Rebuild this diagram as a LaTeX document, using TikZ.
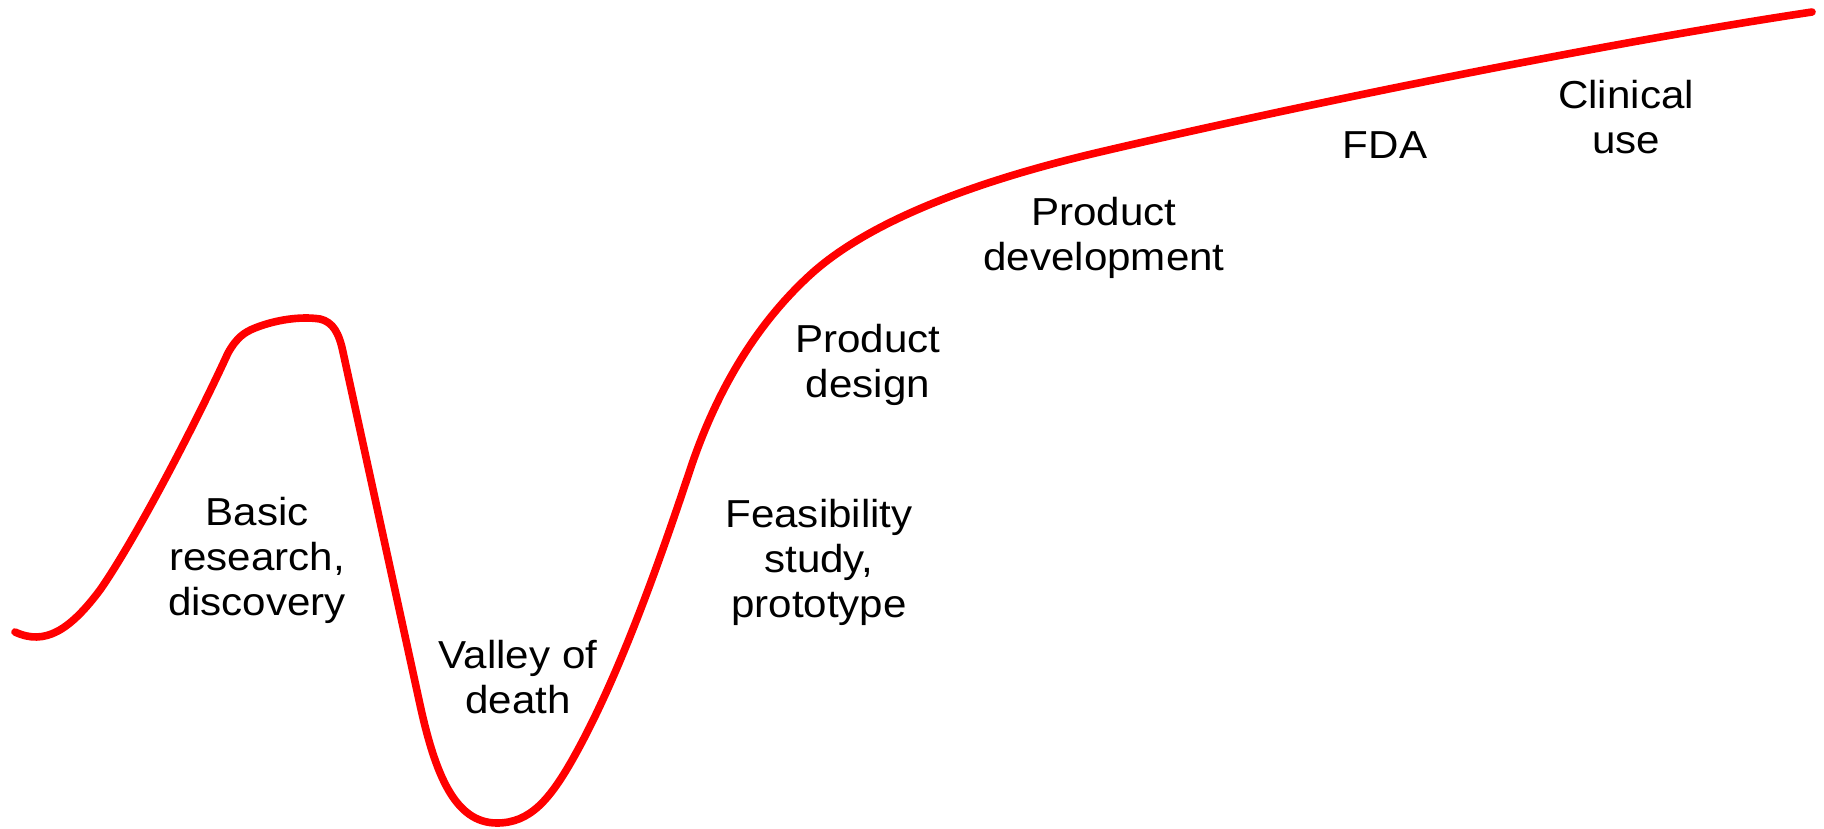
\documentclass[tikz,border=0pt]{standalone}
\usepackage{fontspec}
\setmainfont{Liberation Sans}[FakeStretch=1.08]
\begin{document}
\begin{tikzpicture}[x=0.5pt,y=-0.5pt,
  curve/.style={draw=red,line width=3.8pt,line cap=round,line join=round},
  lbl/.style={font=\fontsize{19.5}{22.5}\selectfont,align=center,inner sep=0pt,anchor=north,text=black}]
\useasboundingbox (0,0) rectangle (1824,829);
\draw[curve] (15,632)
  .. controls (45,646) and (70,630) .. (100,590)
  .. controls (135,540) and (195,425) .. (228,353)
  .. controls (237,337) and (245,332) .. (255,328)
  .. controls (275,320) and (300,316) .. (320,319)
  .. controls (333,322) and (339,333) .. (343,352)
  -- (419,700)
  .. controls (435,775) and (455,823) .. (497,823)
  .. controls (530,823) and (550,800) .. (575,755)
  .. controls (620,674) and (660,560) .. (690,470)
  .. controls (713,401) and (750,330) .. (810,275)
  .. controls (870,220) and (980,180) .. (1100,152)
  .. controls (1300,105) and (1600,44) .. (1812,12);
\node[lbl] (basic) at (257,497) {Basic\\research,\\discovery};
\node[lbl] (valley) at (518,640) {Valley of\\death};
\node[lbl] (feas) at (819,499) {Feasibility\\study,\\prototype};
\node[lbl] (design) at (868,324) {Product\\design};
\node[lbl] (devel) at (1104,197) {Product\\development};
\node[lbl] (fda) at (1385,131) {FDA};
\node[lbl] (clin) at (1626,80) {Clinical\\use};
\end{tikzpicture}
\end{document}
